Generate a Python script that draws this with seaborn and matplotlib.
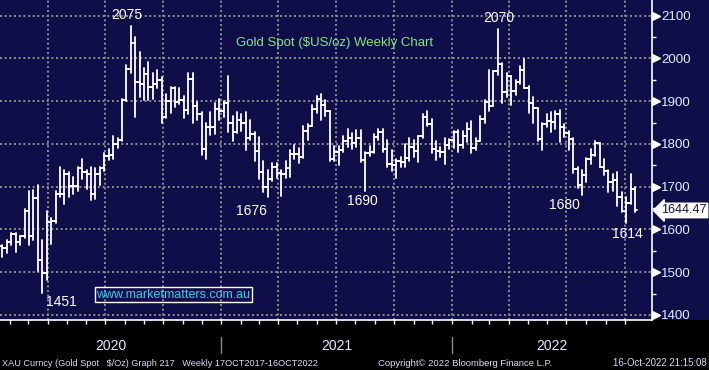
import numpy as np
import pandas as pd
import matplotlib
matplotlib.use('Agg')
import matplotlib.pyplot as plt
import matplotlib.transforms as mtrans
from matplotlib.lines import Line2D
from matplotlib.ticker import FixedLocator, NullFormatter
import seaborn as sns

# ---------------- data (weekly gold spot, week ending Friday) ----------------
weeks = pd.date_range('2020-01-17', periods=144, freq='W-FRI')

open_ = [1562, 1557, 1571, 1589, 1570, 1584, 1643, 1585, 1674, 1529, 1498, 1617, 1620, 1683, 1683, 1729, 1701,
         1702, 1743, 1735, 1730, 1683, 1730, 1743, 1771, 1774, 1799, 1810, 1902, 1975, 2035, 1944, 1940, 1964,
         1934, 1941, 1950, 1862, 1900, 1930, 1899, 1902, 1879, 1951, 1889, 1871, 1788, 1839, 1839, 1881,
         1877, 1895, 1850, 1828, 1856, 1848, 1813, 1824, 1784, 1734, 1700, 1719, 1745, 1733, 1729, 1744, 1777,
         1777, 1769, 1831, 1843, 1881, 1905, 1892, 1877, 1764, 1781, 1787, 1808, 1815, 1802, 1814, 1763, 1780,
         1781, 1817, 1827, 1788, 1754, 1750, 1761, 1757, 1767, 1793, 1783, 1818, 1864, 1846, 1788, 1783, 1782,
         1798, 1809,
         1829, 1797, 1818, 1835, 1791, 1808, 1859, 1898, 1889, 1970, 1988, 1921, 1958, 1925, 1945, 1974, 1931,
         1896, 1883, 1811, 1846, 1853, 1851, 1871, 1840, 1826, 1811, 1742, 1703, 1727, 1766, 1775, 1802, 1747,
         1737, 1712, 1716, 1675, 1644, 1661, 1695]

high = [1563, 1575, 1591, 1592, 1585, 1649, 1689, 1692, 1704, 1575, 1644, 1627, 1690, 1747, 1738, 1735, 1722,
        1745, 1765, 1740, 1745, 1744, 1745, 1779, 1789, 1818, 1815, 1905, 1984, 2075, 2050, 2015, 1977, 1992,
        1966, 1973, 1956, 1917, 1933, 1933, 1932, 1912, 1965, 1966, 1898, 1875, 1848, 1875, 1896, 1906,
        1900, 1959, 1865, 1875, 1870, 1875, 1855, 1828, 1816, 1760, 1740, 1755, 1755, 1740, 1759, 1785, 1798,
        1790, 1843, 1846, 1890, 1913, 1916, 1903, 1877, 1795, 1795, 1818, 1834, 1825, 1832, 1832, 1781, 1795,
        1823, 1834, 1834, 1809, 1787, 1764, 1770, 1800, 1814, 1810, 1818, 1869, 1877, 1858, 1808, 1793, 1815,
        1812, 1831,
        1832, 1830, 1848, 1853, 1815, 1865, 1902, 1974, 1971, 2070, 1990, 1966, 1960, 1950, 1982, 1998, 1936,
        1910, 1884, 1849, 1870, 1874, 1877, 1879, 1847, 1831, 1813, 1745, 1739, 1767, 1788, 1807, 1802, 1765,
        1740, 1729, 1735, 1688, 1675, 1730, 1700]

low = [1536, 1546, 1563, 1547, 1563, 1581, 1563, 1575, 1504, 1451, 1483, 1567, 1616, 1677, 1660, 1676, 1682,
       1690, 1717, 1694, 1670, 1672, 1705, 1737, 1762, 1764, 1791, 1807, 1900, 1965, 1863, 1911, 1902, 1902,
       1906, 1932, 1848, 1860, 1873, 1887, 1894, 1860, 1871, 1850, 1855, 1774, 1764, 1820, 1823, 1856,
       1863, 1828, 1808, 1825, 1831, 1785, 1810, 1760, 1717, 1687, 1676, 1714, 1721, 1678, 1721, 1723, 1764,
       1756, 1768, 1809, 1843, 1872, 1856, 1866, 1761, 1761, 1750, 1782, 1792, 1788, 1794, 1758, 1690, 1773,
       1778, 1810, 1782, 1745, 1737, 1721, 1746, 1746, 1760, 1770, 1758, 1815, 1842, 1778, 1762, 1770, 1753,
       1789, 1790,
       1782, 1790, 1805, 1780, 1785, 1806, 1850, 1878, 1889, 1961, 1895, 1910, 1890, 1915, 1940, 1931, 1872,
       1850, 1808, 1786, 1840, 1828, 1836, 1805, 1816, 1785, 1732, 1697, 1680, 1711, 1754, 1772, 1745, 1727,
       1688, 1691, 1654, 1640, 1614, 1660, 1642]

close = [1557, 1571, 1589, 1570, 1584, 1643, 1585, 1674, 1529, 1498, 1617, 1620, 1683, 1683, 1729, 1701, 1702,
         1743, 1735, 1730, 1683, 1730, 1743, 1771, 1774, 1799, 1810, 1902, 1975, 2035, 1944, 1940, 1964, 1934,
         1941, 1950, 1862, 1900, 1930, 1899, 1902, 1879, 1951, 1889, 1871, 1788, 1839, 1839, 1881, 1877,
         1895, 1850, 1828, 1856, 1848, 1813, 1824, 1784, 1734, 1700, 1719, 1745, 1733, 1729, 1744, 1777, 1777,
         1769, 1831, 1843, 1881, 1905, 1892, 1877, 1764, 1781, 1787, 1808, 1815, 1802, 1814, 1763, 1780, 1781,
         1817, 1827, 1788, 1754, 1750, 1761, 1757, 1767, 1793, 1783, 1818, 1864, 1846, 1788, 1783, 1782, 1798,
         1809, 1829,
         1797, 1818, 1835, 1791, 1808, 1859, 1898, 1889, 1970, 1988, 1921, 1958, 1925, 1945, 1974, 1931, 1896,
         1883, 1811, 1846, 1853, 1851, 1871, 1840, 1826, 1811, 1742, 1703, 1727, 1766, 1775, 1802, 1747, 1737,
         1712, 1716, 1675, 1644, 1661, 1695, 1644.47]

y_ticks = [1400, 1500, 1600, 1700, 1800, 1900, 2000, 2100]
y_minor = [1450, 1550, 1650, 1750, 1850, 1950, 2050]
year_labels = ['2020', '2021', '2022']
# annotated extremes: (week index, kind, label)
extremes = [(29, 'high', '2075'), (112, 'high', '2070'), (60, 'low', '1676'),
            (82, 'low', '1690'), (131, 'low', '1680'), (141, 'low', '1614'), (9, 'low', '1451')]

assert len(open_) == len(high) == len(low) == len(close) == len(weeks)

# ---------------- style ----------------
sns.set_theme(style='dark')
plt.rcParams['font.family'] = ['Liberation Sans', 'DejaVu Sans']

W, H = 709, 370
NAVY = '#0f0e48'
GRID = '#8e8e8e'
TXT = '#e4e9ff'

fig = plt.figure(figsize=(W / 100, H / 100), dpi=100, facecolor='black')
ax = fig.add_axes([0, 50 / H, 652 / W, 320 / H])
fig.add_artist(plt.Rectangle((652 / W, 50 / H), 57 / W, 320 / H, transform=fig.transFigure,
                             fc=NAVY, ec='none', zorder=-5))
ax.set_facecolor(NAVY)

# ---------------- OHLC bars via seaborn ----------------
tick = 0.55
rows = []
for i, (o, h, l, c) in enumerate(zip(open_, high, low, close)):
    rows += [(3 * i, i, l), (3 * i, i, h),
             (3 * i + 1, i - tick, o), (3 * i + 1, i, o),
             (3 * i + 2, i, c), (3 * i + 2, i + tick, c)]
df = pd.DataFrame(rows, columns=['seg', 'x', 'y'])
sns.lineplot(data=df, x='x', y='y', units='seg', estimator=None, sort=False,
             color='white', lw=1.3, ax=ax, legend=False, zorder=3)

ax.set_xlim(-0.565, 146.84)
ax.set_ylim(1388.3, 2136.7)
ax.set_xlabel('')
ax.set_ylabel('')


def pos(d):
    return (pd.Timestamp(d) - weeks[0]).days / 7 - 0.5


months = pd.date_range('2020-02-01', '2022-10-01', freq='MS')
q_pos = [pos(m) for m in months if m.month in (1, 4, 7, 10)]
m_pos = [pos(m) for m in months if m.month not in (1, 4, 7, 10)]
ax.xaxis.set_major_locator(FixedLocator(q_pos))
ax.xaxis.set_minor_locator(FixedLocator(m_pos))
ax.xaxis.set_major_formatter(NullFormatter())
ax.tick_params(axis='x', which='both', length=3, width=1, color='white', direction='out',
               bottom=True, labelbottom=False)

ax.yaxis.tick_right()
ax.set_yticks(y_ticks)
ax.set_yticklabels([str(v) for v in y_ticks])
ax.yaxis.set_minor_locator(FixedLocator(y_minor))
ax.tick_params(axis='y', which='major', length=0, pad=6.5, labelcolor=TXT, labelsize=9.6)
ax.tick_params(axis='y', which='minor', length=3, width=1, color='white', direction='out', right=True)

ax.grid(True, which='major', color=GRID, linestyle=(0, (1, 1.4)), lw=1.4)
ax.grid(False, which='minor')
ax.set_axisbelow(True)
for s in ['top', 'left']:
    ax.spines[s].set_visible(False)
for s in ['right', 'bottom']:
    ax.spines[s].set_visible(True)
    ax.spines[s].set_color('white')
    ax.spines[s].set_linewidth(1.2)

# triangle major ticks
tr_y = mtrans.blended_transform_factory(ax.transAxes, ax.transData)
ax.plot([656 / 652] * len(y_ticks), y_ticks, marker='>', ms=5.5, color='white', ls='none',
        transform=tr_y, clip_on=False)

# ---------------- annotations ----------------
offsets = {'2075': (-4, 11), '2070': (1, 11), '1676': (-16, -14), '1690': (-3, -10),
           '1680': (-17, -10), '1614': (1, -11), '1451': (19, -9)}
for i, kind, lab in extremes:
    yv = high[i] if kind == 'high' else low[i]
    ax.annotate(lab, xy=(i, yv), xytext=offsets[lab], textcoords='offset pixels',
                ha='center', va='center', color='white', fontsize=10, zorder=5)

fig.text(334.5 / W, 1 - 43 / H, 'Gold Spot ($US/oz) Weekly Chart', color='#82e682',
         fontsize=9.5, ha='center', va='center')

fig.text(173 / W, 1 - 294.5 / H, 'www.marketmatters.com.au', color='#2ed2f0', fontsize=9,
         ha='center', va='center',
         bbox=dict(boxstyle='square,pad=0.12', fc='none', ec='white', lw=1))

ax.text(661 / 652, close[-1], f'{close[-1]:.2f}', transform=tr_y, ha='left', va='center',
        color='#10103a', fontsize=9.1, clip_on=False,
        bbox=dict(boxstyle='larrow,pad=0.1', fc='white', ec='white'))

# ---------------- bottom band ----------------
tr_x = mtrans.blended_transform_factory(ax.transData, fig.transFigure)
y_div = [pos('2021-01-01'), pos('2022-01-01')]
for xd in y_div:
    fig.add_artist(Line2D([xd, xd], [1 - 337 / H, 1 - 353 / H], transform=tr_x, color='#8a8a8a', lw=1))
bounds = [ax.get_xlim()[0]] + y_div + [ax.get_xlim()[1]]
for k, lab in enumerate(year_labels):
    fig.text((bounds[k] + bounds[k + 1]) / 2, 1 - 346 / H, lab, transform=tr_x, color=TXT,
             fontsize=10, ha='center', va='center')

FOOT = '#d6def8'
fig.text(2 / W, 1 - 363 / H, 'XAU Curncy (Gold Spot   $/Oz) Graph 217   Weekly 17OCT2017-16OCT2022',
         color=FOOT, fontsize=6.6, ha='left', va='center')
fig.text(378 / W, 1 - 363 / H, 'Copyright\u00a9 2022 Bloomberg Finance L.P.', color=FOOT,
         fontsize=6.8, ha='left', va='center')
fig.text(707 / W, 1 - 363 / H, '16-Oct-2022 21:15:08', color=FOOT, fontsize=6.9,
         ha='right', va='center')

fig.savefig('out.png', dpi=100, facecolor='black')
